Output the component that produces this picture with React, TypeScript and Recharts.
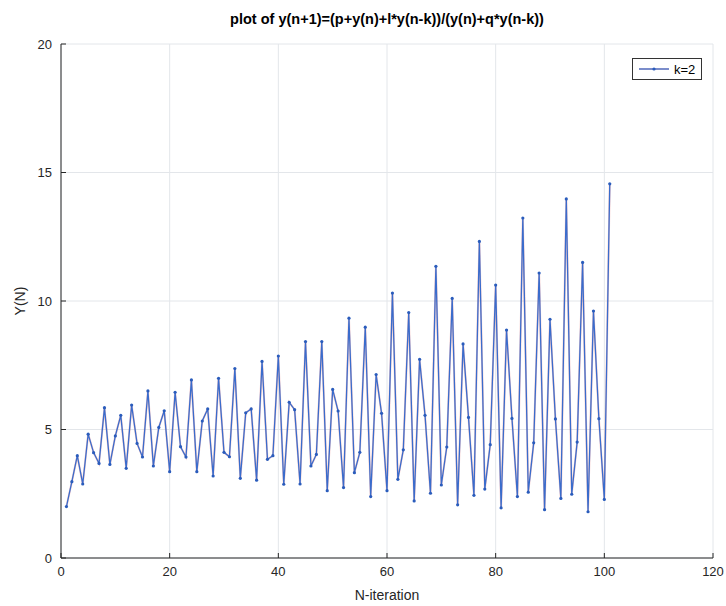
import { LineChart, Line, XAxis, YAxis, CartesianGrid } from "recharts";

const iterations = [
  1, 2, 3, 4, 5, 6, 7, 8, 9, 10, 11, 12, 13, 14, 15, 16, 17, 18, 19, 20,
  21, 22, 23, 24, 25, 26, 27, 28, 29, 30, 31, 32, 33, 34, 35, 36, 37, 38, 39, 40,
  41, 42, 43, 44, 45, 46, 47, 48, 49, 50, 51, 52, 53, 54, 55, 56, 57, 58, 59, 60,
  61, 62, 63, 64, 65, 66, 67, 68, 69, 70, 71, 72, 73, 74, 75, 76, 77, 78, 79, 80,
  81, 82, 83, 84, 85, 86, 87, 88, 89, 90, 91, 92, 93, 94, 95, 96, 97, 98, 99, 100,
  101,
];

const yValues = [
  2.0, 2.97, 3.98, 2.88, 4.82, 4.1, 3.68, 5.85, 3.64, 4.75,
  5.55, 3.49, 5.95, 4.46, 3.93, 6.5, 3.58, 5.08, 5.73, 3.36,
  6.45, 4.33, 3.93, 6.93, 3.36, 5.33, 5.8, 3.19, 6.99, 4.11,
  3.94, 7.37, 3.1, 5.65, 5.8, 3.03, 7.65, 3.84, 3.98, 7.86,
  2.87, 6.06, 5.77, 2.88, 8.42, 3.58, 4.03, 8.42, 2.62, 6.56,
  5.72, 2.74, 9.33, 3.32, 4.11, 8.98, 2.39, 7.14, 5.63, 2.62,
  10.31, 3.06, 4.21, 9.55, 2.22, 7.73, 5.55, 2.52, 11.35, 2.84,
  4.32, 10.1, 2.07, 8.33, 5.47, 2.44, 12.32, 2.68, 4.41, 10.62,
  1.95, 8.87, 5.43, 2.39, 13.23, 2.56, 4.48, 11.09, 1.88, 9.29,
  5.41, 2.32, 13.97, 2.48, 4.51, 11.5, 1.8, 9.61, 5.42, 2.28,
  14.56,
];

const xTicks = [0, 20, 40, 60, 80, 100, 120];
const yTicks = [0, 5, 10, 15, 20];

const data = iterations.map((n, i) => ({ n, y: yValues[i] }));

const font = "'Liberation Sans', Arial, sans-serif";
const axisColor = "#262626";
const tickStyle = { fontSize: 13, fill: axisColor, fontFamily: font };

export default function App() {
  return (
    <div style={{ position: "absolute", left: 0, top: 0, width: 726, height: 606, background: "#fff", fontFamily: font }}>
      <div
        style={{
          position: "absolute",
          left: 61,
          width: 652,
          top: 11,
          textAlign: "center",
          fontSize: 14.5,
          fontWeight: "bold",
          color: "#000",
        }}
      >
        plot of y(n+1)=(p+y(n)+l*y(n-k))/(y(n)+q*y(n-k))
      </div>
      <LineChart
        width={726}
        height={606}
        data={data}
        margin={{ top: 44, right: 13, bottom: 18, left: 21 }}
      >
        <CartesianGrid xAxisId="b" yAxisId="l" stroke="#e3e6ea" strokeWidth={1} />
        <XAxis
          xAxisId="b"
          dataKey="n"
          type="number"
          domain={[0, 120]}
          ticks={xTicks}
          height={30}
          tick={tickStyle}
          tickSize={-5}
          tickMargin={14}
          stroke={axisColor}
          allowDataOverflow
        />
        <XAxis
          xAxisId="t"
          dataKey="n"
          orientation="top"
          type="number"
          domain={[0, 120]}
          ticks={xTicks}
          height={0}
          tick={false}
          tickSize={-5}
          stroke={axisColor}
        />
        <YAxis
          yAxisId="l"
          type="number"
          domain={[0, 20]}
          ticks={yTicks}
          width={40}
          tick={tickStyle}
          tickSize={-5}
          tickMargin={14}
          stroke={axisColor}
        />
        <YAxis
          yAxisId="r"
          orientation="right"
          type="number"
          domain={[0, 20]}
          ticks={yTicks}
          width={0}
          tick={false}
          tickSize={-5}
          stroke={axisColor}
        />
        <Line
          xAxisId="b"
          yAxisId="l"
          dataKey="y"
          type="linear"
          stroke="#e06060"
          strokeWidth={2}
          strokeOpacity={0.35}
          dot={false}
          isAnimationActive={false}
        />
        <Line
          xAxisId="b"
          yAxisId="l"
          dataKey="y"
          type="linear"
          stroke="#3a6ccc"
          strokeWidth={1.3}
          dot={{ r: 1.6, fill: "#2a5cbc", stroke: "none" }}
          isAnimationActive={false}
        />
      </LineChart>
      <div
        style={{
          position: "absolute",
          left: 61,
          width: 652,
          top: 587,
          textAlign: "center",
          fontSize: 14,
          color: axisColor,
        }}
      >
        N-iteration
      </div>
      <div
        style={{
          position: "absolute",
          left: 20,
          top: 301,
          transform: "translate(-50%, -50%) rotate(-90deg)",
          fontSize: 14,
          color: axisColor,
          whiteSpace: "nowrap",
        }}
      >
        Y(N)
      </div>
      <div
        style={{
          position: "absolute",
          left: 632,
          top: 58,
          width: 68,
          height: 20,
          border: "1px solid #333",
          background: "#fff",
          display: "flex",
          alignItems: "center",
          fontSize: 13,
          color: "#000",
        }}
      >
        <svg width={34} height={20} style={{ marginLeft: 4 }}>
          <line x1={2} y1={10} x2={32} y2={10} stroke="#e06060" strokeWidth={2} strokeOpacity={0.35} />
          <line x1={2} y1={10} x2={32} y2={10} stroke="#3a6ccc" strokeWidth={1.3} />
          <circle cx={17} cy={10} r={1.6} fill="#2a5cbc" />
        </svg>
        <span style={{ marginLeft: 3 }}>k=2</span>
      </div>
    </div>
  );
}
